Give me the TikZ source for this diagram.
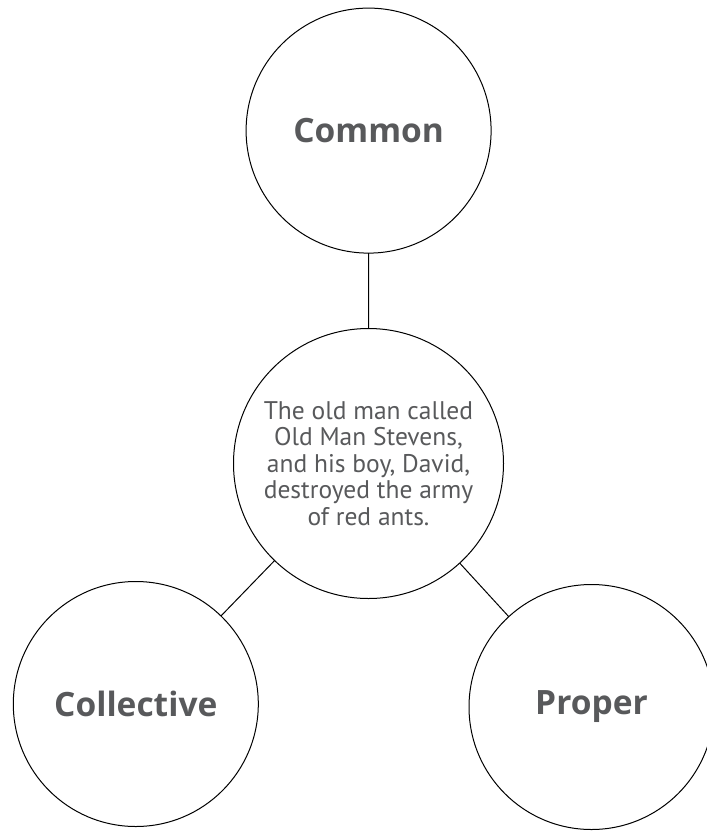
\documentclass[tikz,border=0pt]{standalone}
\usepackage{fontspec}
\setmainfont{PT Sans}
\newfontfamily\labelfont{Open Sans}
\usetikzlibrary{arrows}
\definecolor{textgray}{HTML}{58595B}

\begin{document}
\begin{tikzpicture}[x=1pt,y=1pt,auto]
        \tikzstyle{kind}=[circle,draw,line width=1pt,inner sep=0pt,outer sep=0pt,
                          minimum size=245pt,text=textgray,
                          font=\labelfont\fontsize{33.5}{33.5}\selectfont\bfseries]
        \tikzstyle{sentence}=[kind,minimum size=270pt,align=center,
                          font=\fontsize{25.5}{26.5}\selectfont]

        \useasboundingbox (0,0) rectangle (707,-831);

        \node[sentence] (SEN) at (368.5,-463.5) {The old man called\\Old Man Stevens,\\and his boy, David,\\destroyed the army\\of red ants.};
        \node[kind]     (COM) at (368.6,-130.6) {Common};
        \node[kind]     (COL) at (135.8,-704)   {Collective}; % bottom left
        \node[kind]     (PRO) at (591.5,-707)   {Proper};     % bottom right

        \path[-,line width=1pt]
                  (SEN) edge (COM)
                        edge (COL)
                        edge (PRO);
\end{tikzpicture}
\end{document}
